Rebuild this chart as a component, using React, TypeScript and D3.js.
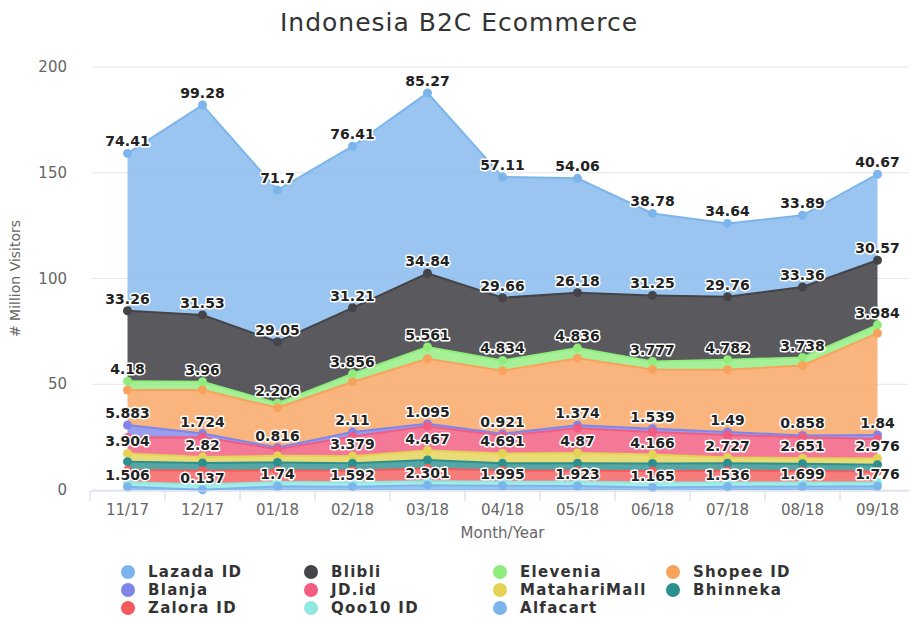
import { useMemo } from "react"
import * as d3 from "d3"

const months = ["11/17", "12/17", "01/18", "02/18", "03/18", "04/18", "05/18", "06/18", "07/18", "08/18", "09/18"]

const lazada = [74.41, 99.28, 71.7, 76.41, 85.27, 57.11, 54.06, 38.78, 34.64, 33.89, 40.67]
const blibli = [33.26, 31.53, 29.05, 31.21, 34.84, 29.66, 26.18, 31.25, 29.76, 33.36, 30.57]
const elevenia = [4.18, 3.96, 2.206, 3.856, 5.561, 4.834, 4.836, 3.777, 4.782, 3.738, 3.984]
const shopee = [16.6, 20.6, 18.8, 23.7, 30.8, 29.8, 31.7, 28.0, 29.4, 33.1, 48.1]
const blanja = [5.883, 1.724, 0.816, 2.11, 1.095, 0.921, 1.374, 1.539, 1.49, 0.858, 1.84]
const jdid = [7.5, 9.4, 3.1, 9.3, 11.5, 8.4, 11.7, 10.7, 10.6, 9.9, 9.2]
const mataharimall = [3.904, 2.82, 3.1, 3.379, 4.467, 4.691, 4.87, 4.166, 2.727, 2.651, 2.976]
const bhinneka = [4.0, 3.6, 3.8, 3.5, 4.0, 3.4, 3.5, 3.6, 3.5, 3.4, 3.2]
const zalora = [5.7, 6.5, 5.5, 5.4, 6.1, 5.3, 5.2, 5.4, 5.6, 5.4, 5.2]
const qoo10 = [2.2, 2.5, 2.0, 2.1, 1.8, 1.9, 2.0, 2.4, 2.0, 1.9, 1.8]
const alfacart = [1.506, 0.137, 1.74, 1.592, 2.301, 1.995, 1.923, 1.165, 1.536, 1.699, 1.776]

const yTicks = [0, 50, 100, 150, 200]

// legend order (top of stack first)
const series = [
  { name: "Lazada ID", values: lazada, color: "#7cb5ec", labels: true, opacity: 0.78 },
  { name: "Blibli", values: blibli, color: "#434348", labels: true, opacity: 0.88 },
  { name: "Elevenia", values: elevenia, color: "#90ed7d", labels: true, opacity: 0.8 },
  { name: "Shopee ID", values: shopee, color: "#f7a35c", labels: false, opacity: 0.8 },
  { name: "Blanja", values: blanja, color: "#8085e9", labels: true, opacity: 0.8 },
  { name: "JD.id", values: jdid, color: "#f15c80", labels: false, opacity: 0.82 },
  { name: "MatahariMall", values: mataharimall, color: "#e4d354", labels: true, opacity: 0.8 },
  { name: "Bhinneka", values: bhinneka, color: "#2b908f", labels: false, opacity: 0.8 },
  { name: "Zalora ID", values: zalora, color: "#f45b5b", labels: false, opacity: 0.8 },
  { name: "Qoo10 ID", values: qoo10, color: "#91e8e1", labels: false, opacity: 0.8 },
  { name: "Alfacart", values: alfacart, color: "#7cb5ec", labels: true, opacity: 0.8 },
]

const W = 909
const H = 617
const plot = { left: 90, right: 915, top: 67, bottom: 490 }

export default function App() {
  const x = d3.scaleBand().domain(months).range([plot.left, plot.right]).padding(0)
  const y = d3.scaleLinear().domain([0, 200]).range([plot.bottom, plot.top])
  const cx = (m: string) => (x(m) || 0) + x.bandwidth() / 2

  const layers = useMemo(() => {
    const rows = months.map((m, i) => {
      const r: Record<string, any> = { month: m }
      series.forEach((s) => (r[s.name] = s.values[i]))
      return r
    })
    const keys = series.map((s) => s.name).reverse()
    return d3.stack().keys(keys)(rows as any)
  }, [])

  const byName = new Map(layers.map((l) => [l.key, l]))

  const area = d3
    .area<any>()
    .x((d) => cx(d.data.month))
    .y0((d) => y(d[0]))
    .y1((d) => y(d[1]))
  const line = d3
    .line<any>()
    .x((d) => cx(d.data.month))
    .y((d) => y(d[1]))

  // data labels, hide the ones that overlap an earlier label
  const placed: { x0: number; x1: number; y0: number; y1: number }[] = []
  const labels: { x: number; y: number; text: string }[] = []
  series.forEach((s) => {
    if (!s.labels) return
    const layer = byName.get(s.name)!
    layer.forEach((d: any, i: number) => {
      const text = String(s.values[i])
      const lx = cx(months[i])
      const ly = y(d[1]) - 7
      const w = text.length * 8 + 2
      const box = { x0: lx - w / 2, x1: lx + w / 2, y0: ly - 11, y1: ly + 2 }
      const hit = placed.some((b) => b.x0 < box.x1 && box.x0 < b.x1 && b.y0 < box.y1 && box.y0 < b.y1)
      if (hit) return
      placed.push(box)
      labels.push({ x: lx, y: ly, text })
    })
  })

  const legendCols = [128, 311, 500, 673]
  const legendRows = [572, 590, 608]

  return (
    <svg width={W} height={H} style={{ position: "absolute", left: 0, top: 0, background: "#fff" }} fontFamily="DejaVu Sans, sans-serif">
      <text x={459} y={31} textAnchor="middle" fontSize={25} fill="#333" letterSpacing={1}>
        Indonesia B2C Ecommerce
      </text>

      {/* grid */}
      {yTicks.map((t) => (
        <g key={t}>
          <line x1={plot.left + 2} x2={W} y1={y(t)} y2={y(t)} stroke="#e6e6e6" strokeWidth={1} />
          <text x={67} y={y(t) + 5} textAnchor="end" fontSize={15} fill="#666">
            {t}
          </text>
        </g>
      ))}

      {/* areas */}
      {series.map((s) => (
        <path key={s.name} d={area(byName.get(s.name) as any) || ""} fill={s.color} fillOpacity={s.opacity} stroke="none" />
      ))}
      {series.map((s) => (
        <path key={s.name} d={line(byName.get(s.name) as any) || ""} fill="none" stroke={s.color} strokeWidth={2} />
      ))}
      {series.map((s) =>
        (byName.get(s.name) as any).map((d: any, i: number) => (
          <circle key={s.name + i} cx={cx(months[i])} cy={y(d[1])} r={4.5} fill={s.color} />
        )),
      )}

      {/* x axis */}
      <line x1={plot.left} x2={W} y1={plot.bottom + 1} y2={plot.bottom + 1} stroke="#ccd6eb" />
      {months.map((m) => (
        <g key={m}>
          <line x1={x(m)} x2={x(m)} y1={plot.bottom + 1} y2={plot.bottom + 11} stroke="#ccd6eb" />
          <text x={cx(m)} y={515} textAnchor="middle" fontSize={15} fill="#666">
            {m}
          </text>
        </g>
      ))}
      <text x={(plot.left + plot.right) / 2} y={538} textAnchor="middle" fontSize={15} fill="#666">
        Month/Year
      </text>
      <text transform={`translate(20,${(plot.top + plot.bottom) / 2}) rotate(-90)`} textAnchor="middle" fontSize={14} fill="#666">
        # Million Visitors
      </text>

      {/* data labels */}
      {labels.map((l, i) => (
        <text
          key={i}
          x={l.x}
          y={l.y}
          textAnchor="middle"
          fontSize={14}
          fontWeight="bold"
          fill="#222"
          stroke="#fff"
          strokeWidth={3}
          strokeLinejoin="round"
          paintOrder="stroke"
        >
          {l.text}
        </text>
      ))}

      {/* legend */}
      {series.map((s, i) => {
        const lx = legendCols[i % 4]
        const ly = legendRows[Math.floor(i / 4)]
        return (
          <g key={s.name}>
            <circle cx={lx} cy={ly} r={7} fill={s.color} />
            <text x={lx + 20} y={ly + 5} fontSize={15} fontWeight="bold" fill="#333" letterSpacing={1.3}>
              {s.name}
            </text>
          </g>
        )
      })}
    </svg>
  )
}
